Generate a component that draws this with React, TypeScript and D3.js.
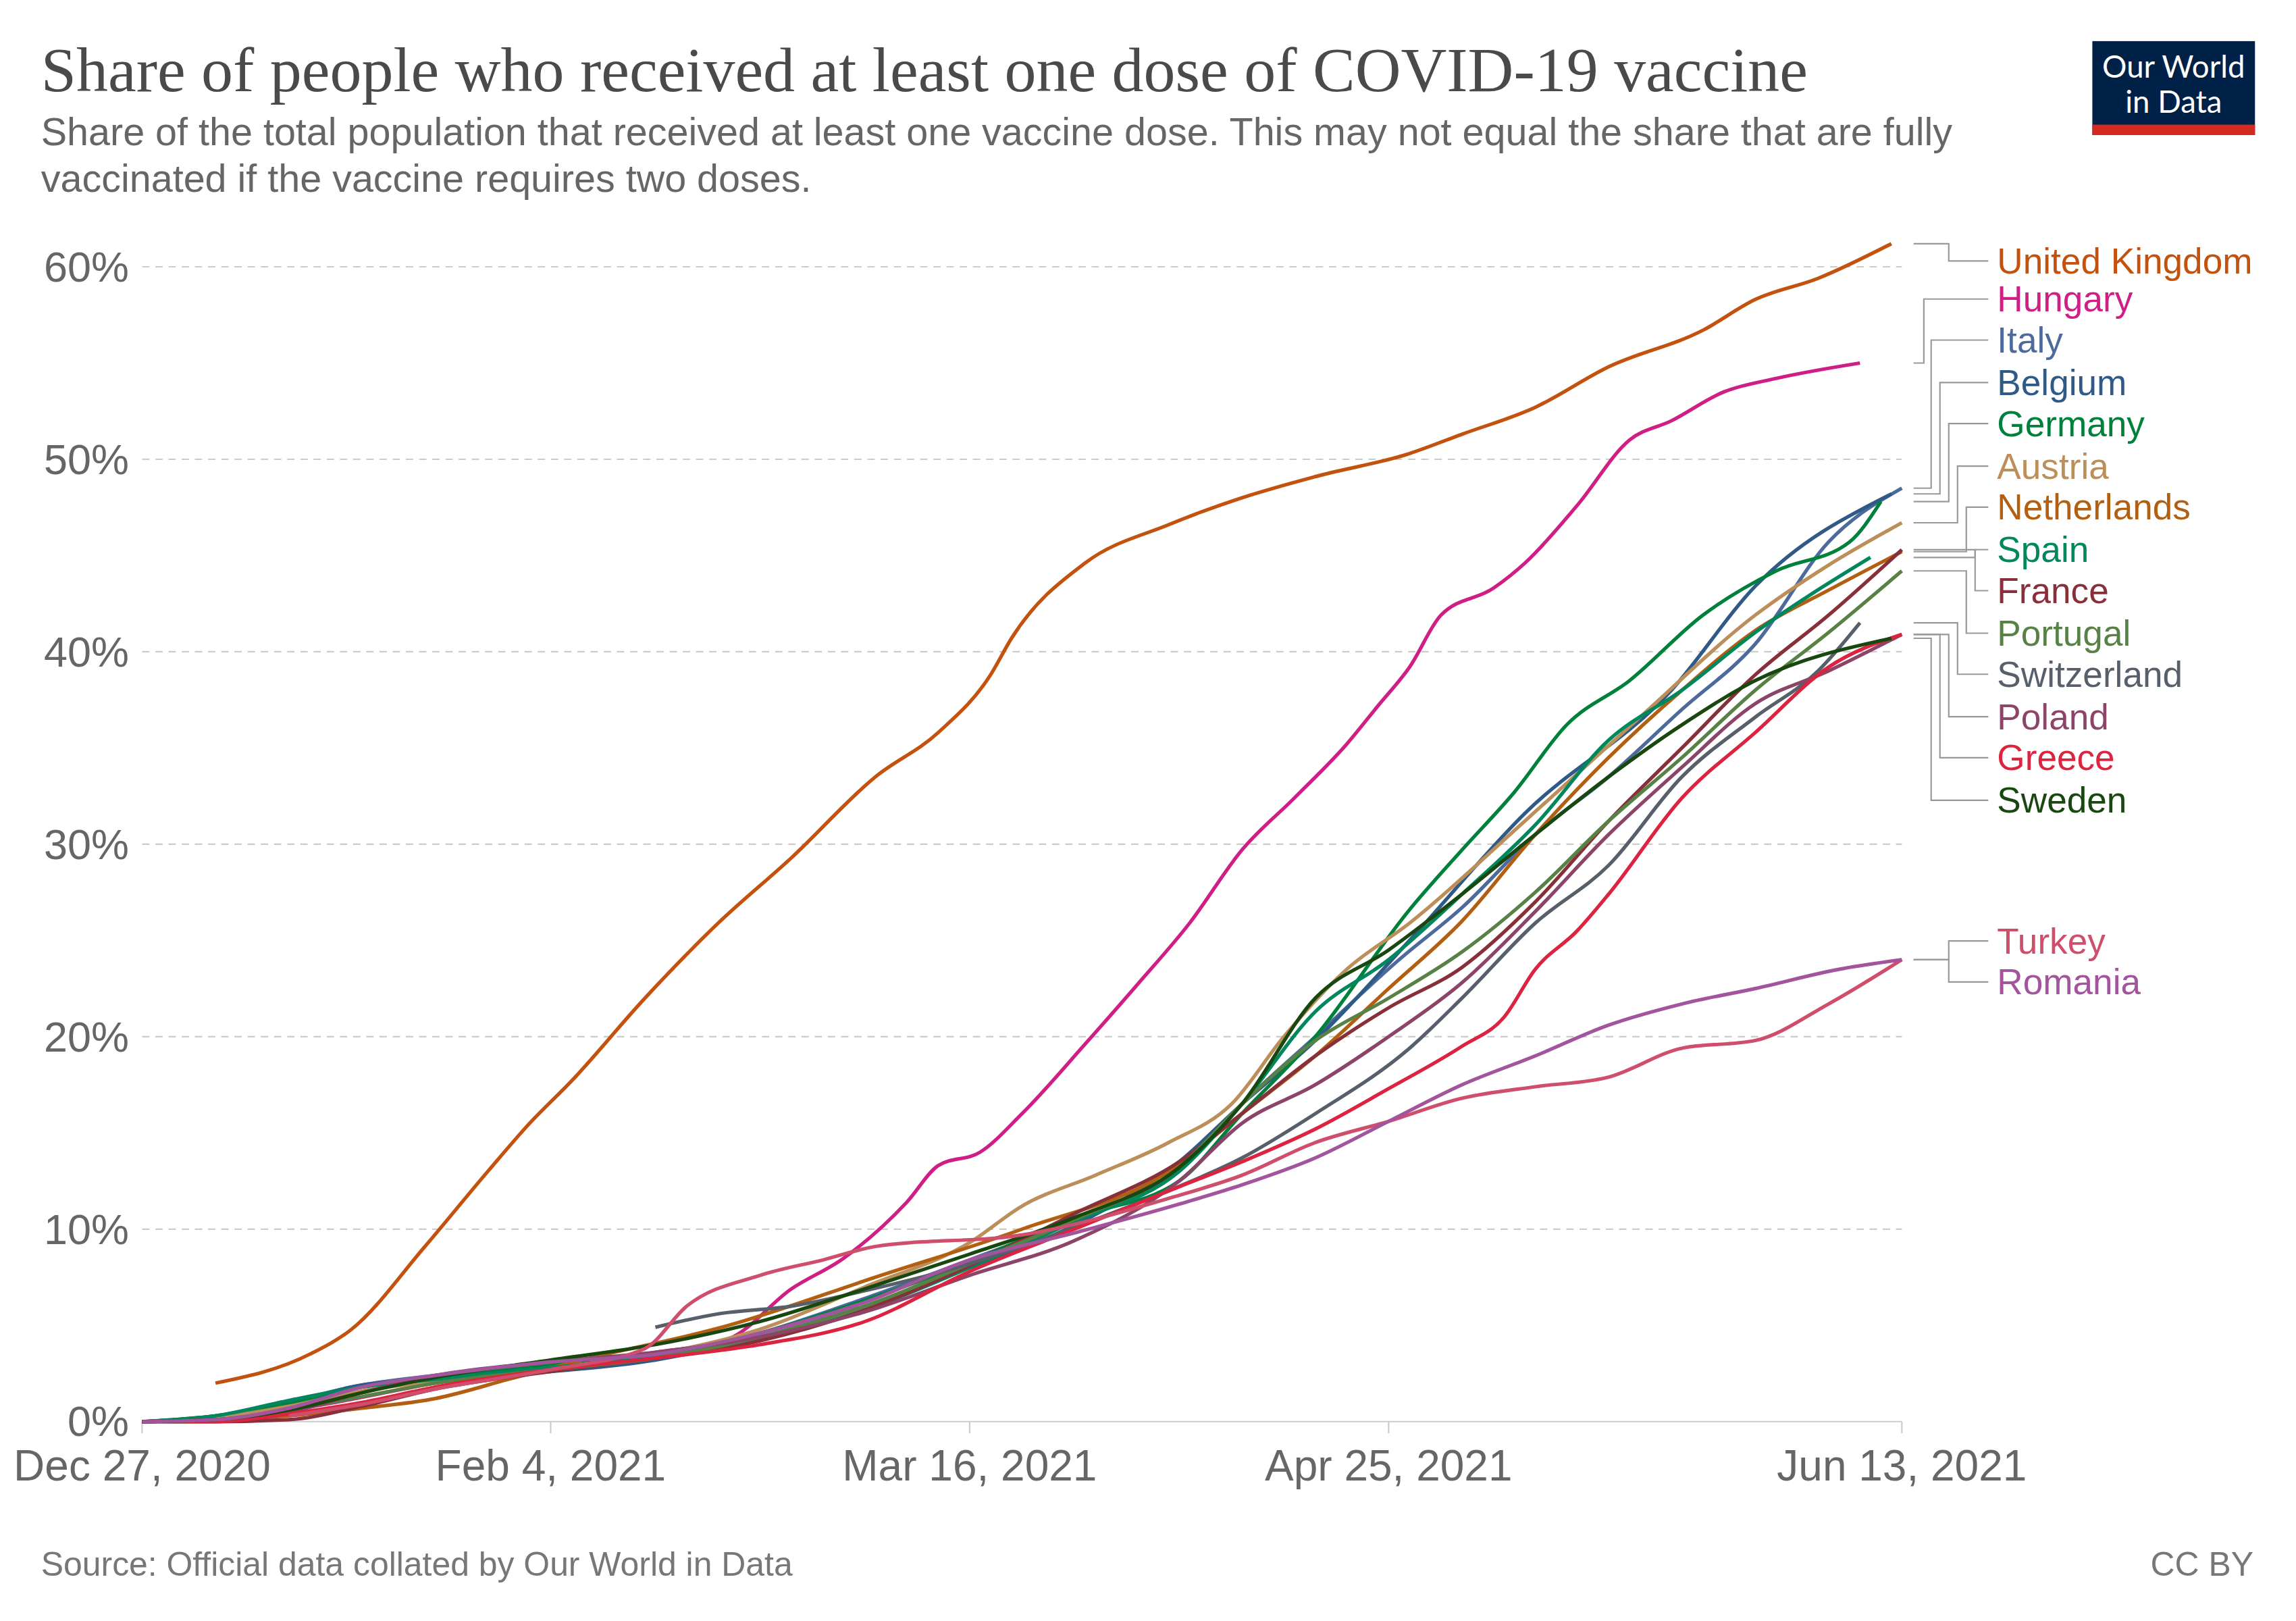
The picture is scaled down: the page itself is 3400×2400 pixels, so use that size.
import React from "react";
import * as d3 from "d3";

const START = new Date(2020, 11, 27);
const xTicks = ["Dec 27, 2020", "Feb 4, 2021", "Mar 16, 2021", "Apr 25, 2021", "Jun 13, 2021"];
const xTickDays = [0, 39, 79, 119, 168];
const yTicks = [0, 10, 20, 30, 40, 50, 60];

// [day since Dec 27 2020, share %]
const unitedKingdom = [[7,2.0],[16,3.5],[20,4.8],[27,9.1],[33,13],[37,15.5],[41,17.7],[48,22],[55,25.9],[62,29.3],[70,33.5],[76,35.8],[81,38.8],[83,40.7],[90,44.6],[98,46.6],[105,48],[112,49.1],[121,50.3],[126,51.3],[133,52.7],[140,54.8],[149,56.7],[154,58.3],[160,59.4],[167,61.2]];
const hungary = [[3,0],[14,0.6],[28,2.0],[39,3.0],[49,3.6],[56,4.3],[62,6.9],[67,8.5],[73,11.4],[76,13.3],[80,14],[84,16],[90,19.6],[95,22.7],[100,25.9],[105,29.7],[110,32.4],[115,35.2],[118,37.2],[121,39.2],[124,41.9],[129,43.3],[132,44.6],[137,47.6],[142,51],[146,52],[151,53.5],[156,54.2],[164,55]];
const italy = [[0,0],[7,0.3],[14,1.0],[21,1.9],[28,2.4],[39,3.0],[49,3.4],[59,4.6],[69,6.4],[79,8.4],[89,10.5],[99,13.0],[105,16.5],[112,20],[120,24],[126,26.7],[133,30.5],[140,33.5],[147,37],[154,40.4],[161,45.7],[168,48.5]];
const belgium = [[0,0],[7,0.2],[14,1.0],[21,1.9],[28,2.2],[39,2.6],[49,3.2],[59,4.4],[69,6.0],[79,8.0],[89,10.2],[99,13.5],[105,16.5],[112,19.8],[121,25],[132,31.6],[146,38],[154,43.4],[167,48.2]];
const germany = [[0,0],[7,0.3],[14,0.9],[21,1.8],[28,2.3],[39,2.9],[49,3.5],[59,4.6],[69,6.3],[79,8.3],[89,10.6],[99,12.5],[105,16],[112,20],[121,26.6],[126,29.7],[131,32.7],[136,36.2],[142,38.5],[149,41.9],[156,44.2],[163,45.7],[166,47.8]];
const austria = [[0,0],[7,0.2],[14,0.8],[21,1.6],[28,2.1],[39,2.8],[49,3.5],[59,4.8],[69,7.0],[79,9.3],[84,11.2],[91,12.8],[98,14.5],[104,16.5],[109,20],[115,23.5],[121,25.9],[132,31.2],[143,36.6],[154,41.9],[161,44.5],[168,46.7]];
const netherlands = [[0,0],[7,0.1],[14,0.3],[21,0.7],[28,1.2],[35,2.2],[42,3.2],[56,5],[70,7.5],[84,10],[98,13],[105,16],[112,19],[119,22.5],[126,26],[133,30.5],[140,34.5],[147,38],[154,41.1],[161,43.2],[168,45.2]];
const spain = [[0,0],[7,0.3],[14,1.1],[21,1.8],[28,2.2],[39,2.8],[49,3.4],[59,4.3],[69,5.8],[79,8.0],[89,10.4],[99,13.0],[105,16.5],[112,21.3],[119,24],[126,27.4],[133,31],[140,35.4],[147,38],[154,41],[165,44.9]];
const france = [[0,0],[7,0.0],[14,0.1],[21,0.8],[28,1.7],[39,2.6],[49,3.3],[59,4.2],[69,5.8],[79,8.1],[89,10.8],[99,13.5],[105,16],[112,19],[119,21.5],[126,23.6],[133,27],[140,31.2],[147,35],[154,38.8],[161,41.9],[168,45.3]];
const portugal = [[0,0],[7,0.1],[14,0.6],[21,1.3],[28,2.0],[39,2.7],[49,3.3],[59,4.4],[69,6.0],[79,8.2],[89,10.5],[99,13.2],[105,16.5],[112,19.8],[119,22],[126,24.4],[133,27.5],[140,31.2],[147,34.5],[154,38],[161,41],[168,44.2]];
const switzerland = [[49,4.9],[55,5.6],[62,6.0],[69,6.8],[79,8.2],[84,9.1],[91,10.5],[98,12],[105,13.7],[112,16],[121,19.4],[126,22],[133,25.9],[140,28.9],[147,33.5],[154,36.6],[160,39],[164,41.5]];
const poland = [[0,0],[7,0.1],[14,0.5],[21,1.5],[28,2.4],[39,3.1],[49,3.6],[59,4.4],[69,5.7],[79,7.6],[89,9.4],[99,12.5],[105,15.5],[112,17.5],[119,20],[126,22.8],[133,26.5],[140,30.5],[147,34],[154,37.3],[161,39],[168,40.9]];
const greece = [[0,0],[7,0.0],[14,0.4],[21,1.0],[28,1.8],[39,2.7],[49,3.3],[59,4.0],[69,5.2],[79,7.8],[89,10.0],[99,12.2],[105,13.5],[112,15.2],[119,17.3],[126,19.5],[130,21],[133,23.5],[137,25.5],[140,27.4],[147,32.4],[154,35.8],[161,39.2],[168,40.9]];
const sweden = [[0,0],[7,0.1],[14,0.6],[21,1.5],[28,2.3],[39,3.2],[49,4.0],[59,5.2],[69,6.9],[79,8.7],[89,10.6],[99,13.2],[105,16.5],[112,22],[119,24.5],[126,27.4],[133,30.5],[140,33.5],[147,36.2],[154,38.5],[167,40.7]];
const turkey = [[14,0.3],[21,0.9],[28,1.7],[39,2.7],[48,3.8],[52,6.0],[59,7.6],[65,8.4],[70,9.1],[84,9.7],[98,11.6],[105,12.8],[112,14.5],[119,15.6],[126,16.8],[133,17.4],[140,17.9],[147,19.4],[154,19.8],[161,21.7],[168,24]];
const romania = [[0,0],[7,0.1],[14,0.7],[21,1.8],[28,2.4],[39,3.1],[49,3.5],[59,4.6],[69,6.2],[79,8.4],[89,9.8],[99,11.3],[105,12.3],[112,13.7],[119,15.6],[126,17.5],[133,19],[140,20.6],[147,21.7],[154,22.5],[162,23.5],[168,24]];

const countries = ["United Kingdom","Hungary","Italy","Belgium","Germany","Austria","Netherlands","Spain","France","Portugal","Switzerland","Poland","Greece","Sweden","Turkey","Romania"];
const seriesData = [unitedKingdom,hungary,italy,belgium,germany,austria,netherlands,spain,france,portugal,switzerland,poland,greece,sweden,turkey,romania];
const colors = ["#c4520f","#cf1f85","#4c6a9c","#2f5a87","#00813b","#bc8e5a","#b35f12","#00875e","#883039","#578145","#575f6b","#8c4569","#dc233f","#18470f","#cf4e6b","#a2559c"];
const labelY = [178,204,232,261,289,318,346,375,403,432,460,489,517,546,642,670];
const elbowX = [1330,1313,1318,1324,1330,1336,1342,1348,1348,1342,1336,1330,1324,1318,1330,1330];

export default function App() {
  const x = d3.scaleTime().domain([START, d3.timeDay.offset(START, 168)]).range([97, 1298]);
  const y = d3.scaleLinear().domain([0, 60]).range([970, 182]);
  const dx = (d: number) => x(d3.timeDay.offset(START, d));
  const line = d3.line<number[]>().x(d => dx(d[0])).y(d => y(d[1])).curve(d3.curveMonotoneX);
  const font = "'Liberation Sans', Arial, sans-serif";
  return (
    <svg width={3400} height={2400} viewBox="0 0 1567 1106" style={{ position: "absolute", left: 0, top: 0, background: "#fff" }} fontFamily={font}>
      <rect width={1567} height={1106} fill="#fff" />
      <text x={28} y={62} fontFamily="'Liberation Serif', 'DejaVu Serif', serif" fontSize={43.3} fill="#4a4a4a">Share of people who received at least one dose of COVID-19 vaccine</text>
      <text x={28} y={99} fontSize={26.5} fill="#666">Share of the total population that received at least one vaccine dose. This may not equal the share that are fully</text>
      <text x={28} y={131} fontSize={26.5} fill="#666">vaccinated if the vaccine requires two doses.</text>
      <rect x={1428} y={28} width={111} height={64} fill="#002147" />
      <rect x={1428} y={85} width={111} height={7} fill="#d42b21" />
      <text x={1483.5} y={53} textAnchor="middle" fontFamily="Lato, sans-serif" fontSize={21} fill="#fff">Our World</text>
      <text x={1483.5} y={77} textAnchor="middle" fontFamily="Lato, sans-serif" fontSize={21} fill="#fff">in Data</text>
      {yTicks.map(t => (
        <g key={t}>
          {t > 0 && <line x1={97} x2={1298} y1={y(t)} y2={y(t)} stroke="#ccc" strokeDasharray="5,4" />}
          <text x={88} y={y(t) + 10} textAnchor="end" fontSize={29} fill="#666">{t}%</text>
        </g>
      ))}
      <line x1={97} x2={1298} y1={970} y2={970} stroke="#ccc" />
      {xTickDays.map((d, i) => (
        <g key={i}>
          <line x1={dx(d)} x2={dx(d)} y1={970} y2={978} stroke="#ccc" />
          <text x={dx(d)} y={1010} textAnchor="middle" fontSize={29.5} fill="#666">{xTicks[i]}</text>
        </g>
      ))}
      {seriesData.map((s, i) => (
        <path key={i} d={line(s as any) || ""} fill="none" stroke={colors[i]} strokeWidth={2.4} />
      ))}
      {seriesData.map((s, i) => {
        const ye = y(s[s.length - 1][1]);
        return (
          <g key={"l" + i}>
            <path d={`M1306,${ye}H${elbowX[i]}V${labelY[i]}H1357`} fill="none" stroke="#999" strokeWidth={1} />
            <text x={1363} y={labelY[i] + 8.5} fontSize={24.5} fill={colors[i]}>{countries[i]}</text>
          </g>
        );
      })}
      <text x={28} y={1075} fontSize={23} fill="#777">Source: Official data collated by Our World in Data</text>
      <text x={1538} y={1075} textAnchor="end" fontSize={23} fill="#777">CC BY</text>
    </svg>
  );
}
